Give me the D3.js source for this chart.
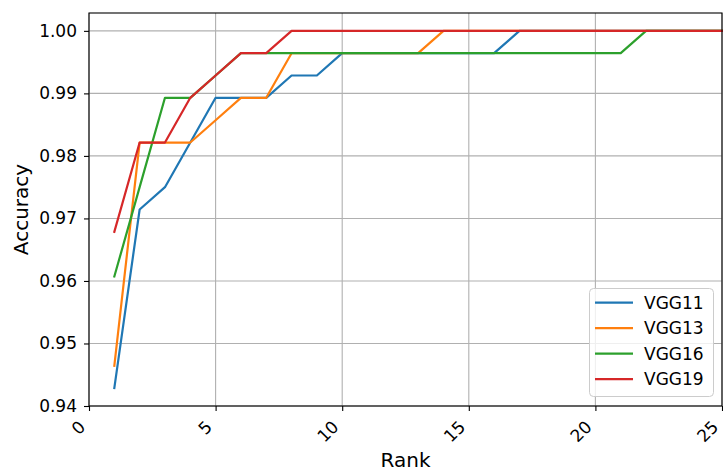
<!DOCTYPE html>
<html><head><meta charset="utf-8">
<script src="https://cdn.jsdelivr.net/npm/d3@7"></script>
<style>body{margin:0;background:#fff;} text{font-family:"DejaVu Sans",sans-serif;fill:#000;}</style>
</head><body><svg id="c" width="723" height="473"></svg>
<script>
const ranks = [1,2,3,4,5,6,7,8,9,10,11,12,13,14,15,16,17,18,19,20,21,22,23,24,25];
const seriesNames = ["VGG11","VGG13","VGG16","VGG19"];
const colors = ["#1f77b4","#ff7f0e","#2ca02c","#d62728"];
const vgg11 = [0.94286,0.97143,0.975,0.98214,0.98929,0.98929,0.98929,0.99286,0.99286,0.99643,0.99643,0.99643,0.99643,0.99643,0.99643,0.99643,1,1,1,1,1,1,1,1,1];
const vgg13 = [0.94643,0.98214,0.98214,0.98214,0.98571,0.98929,0.98929,0.99643,0.99643,0.99643,0.99643,0.99643,0.99643,1,1,1,1,1,1,1,1,1,1,1,1];
const vgg16 = [0.96071,0.975,0.98929,0.98929,0.99286,0.99643,0.99643,0.99643,0.99643,0.99643,0.99643,0.99643,0.99643,0.99643,0.99643,0.99643,0.99643,0.99643,0.99643,0.99643,0.99643,1,1,1,1];
const vgg19 = [0.96786,0.98214,0.98214,0.98929,0.99286,0.99643,0.99643,1,1,1,1,1,1,1,1,1,1,1,1,1,1,1,1,1,1];
const seriesValues = [vgg11, vgg13, vgg16, vgg19];
const xTicks = [0,5,10,15,20,25];
const yTicks = [0.94,0.95,0.96,0.97,0.98,0.99,1.00];
const xLabel = "Rank", yLabel = "Accuracy";

const L=89, R=722, T=13, B=406;
const svg = d3.select("#c");
const x = d3.scaleLinear().domain([0,25]).range([L,R]);
const y = d3.scaleLinear().domain([0.94,1.002857]).range([B,T]);

// grid
const g = svg.append("g");
g.selectAll(".gx").data(xTicks).enter().append("line")
 .attr("x1",d=>x(d)).attr("x2",d=>x(d)).attr("y1",T).attr("y2",B)
 .attr("stroke","#b0b0b0").attr("stroke-width",1.1);
g.selectAll(".gy").data(yTicks).enter().append("line")
 .attr("y1",d=>y(d)).attr("y2",d=>y(d)).attr("x1",L).attr("x2",R)
 .attr("stroke","#b0b0b0").attr("stroke-width",1.1);

// lines
const line = d3.line().x((d,i)=>x(ranks[i])).y(d=>y(d));
seriesValues.forEach((vals,k)=>{
  svg.append("path").datum(vals).attr("d",line).attr("fill","none")
    .attr("stroke",colors[k]).attr("stroke-width",2.2).attr("stroke-linejoin","round").attr("stroke-linecap","square");
});

// frame
svg.append("rect").attr("x",L).attr("y",T).attr("width",R-L).attr("height",B-T)
  .attr("fill","none").attr("stroke","#000").attr("stroke-width",1.1);

// axes
const xAxis = d3.axisBottom(x).tickValues(xTicks).tickSize(5).tickPadding(0).tickFormat(d3.format("d"));
const gx = svg.append("g").attr("transform",`translate(0,${B})`).call(xAxis);
gx.select(".domain").remove();
gx.selectAll("line").attr("stroke","#000").attr("stroke-width",1.1);
gx.selectAll("text").attr("font-size",17).attr("font-family","DejaVu Sans")
  .attr("text-anchor","end").attr("dy",null).attr("y",null)
  .attr("transform","translate(-3,22) rotate(-45)");

const yAxis = d3.axisLeft(y).tickValues(yTicks).tickSize(5).tickPadding(7).tickFormat(d3.format(".2f"));
const gy = svg.append("g").attr("transform",`translate(${L},0)`).call(yAxis);
gy.select(".domain").remove();
gy.selectAll("line").attr("stroke","#000").attr("stroke-width",1.1);
gy.selectAll("text").attr("font-size",17).attr("font-family","DejaVu Sans");

svg.append("text").attr("x",(L+R)/2).attr("y",467).attr("text-anchor","middle").attr("font-size",20).text(xLabel);
svg.append("text").attr("transform",`translate(28,${(T+B)/2}) rotate(-90)`).attr("text-anchor","middle").attr("font-size",20).text(yLabel);

// legend
const lg = svg.append("g");
lg.append("rect").attr("x",589.5).attr("y",288.5).attr("width",124).attr("height",108).attr("rx",4)
  .attr("fill","#fff").attr("fill-opacity",0.8).attr("stroke","#cccccc").attr("stroke-width",1);
seriesNames.forEach((n,k)=>{
  const yy = 302.7 + k*25.5;
  lg.append("line").attr("x1",595).attr("x2",633).attr("y1",yy).attr("y2",yy).attr("stroke",colors[k]).attr("stroke-width",2.2);
  lg.append("text").attr("x",644).attr("y",yy).attr("dy","0.36em").attr("font-size",17).text(n);
});
</script></body></html>
